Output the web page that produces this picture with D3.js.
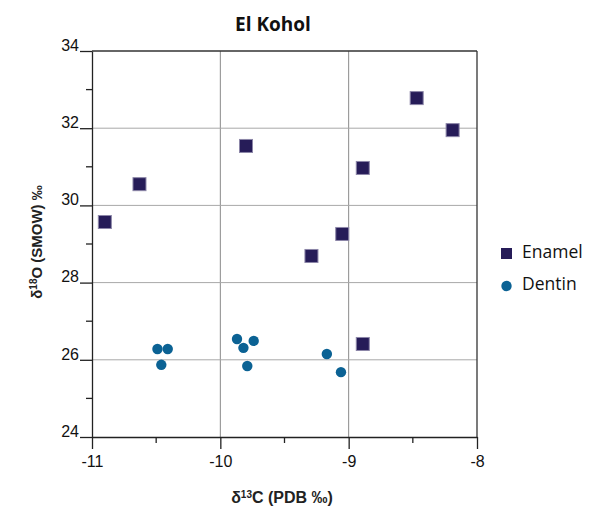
<!DOCTYPE html>
<html><head><meta charset="utf-8">
<script src="https://cdn.jsdelivr.net/npm/d3@7"></script>
<style>body{margin:0;background:#fff;} svg{display:block;}</style>
</head><body>
<svg id="c" width="590" height="510"></svg>
<script>
const enamelX = [-10.90, -10.63, -9.80, -8.47, -8.19, -8.89, -9.05, -9.29, -8.89];
const enamelY = [29.57, 30.55, 31.54, 32.78, 31.95, 30.97, 29.26, 28.69, 26.41];
const dentinX = [-10.49, -10.41, -10.46, -9.87, -9.74, -9.82, -9.79, -9.17, -9.06];
const dentinY = [26.28, 26.28, 25.87, 26.54, 26.49, 26.31, 25.84, 26.15, 25.68];
const xTicks = [-11, -10, -9, -8];
const xMinor = [-10.5, -9.5, -8.5];
const yTicks = [24, 26, 28, 30, 32, 34];
const yMinor = [25, 27, 29, 31, 33];
const seriesNames = ["Enamel", "Dentin"];

const svg = d3.select("#c");
const L = 92, R = 477, T = 51, B = 437;
const x = d3.scaleLinear().domain([-11, -8]).range([L, R]);
const y = d3.scaleLinear().domain([24, 34]).range([B, T]);
const font = "'Liberation Sans', Arial, sans-serif";
const fmt = d => String(d).replace("\u2212", "-");

// grid
svg.append("g").selectAll("line").data(xTicks.slice(1, -1)).join("line")
  .attr("x1", d => x(d)).attr("x2", d => x(d)).attr("y1", T).attr("y2", B)
  .attr("stroke", "#8a8a8a").attr("stroke-width", 1);
svg.append("g").selectAll("line").data(yTicks.slice(1, -1)).join("line")
  .attr("y1", d => y(d)).attr("y2", d => y(d)).attr("x1", L).attr("x2", R)
  .attr("stroke", "#a8a8a8").attr("stroke-width", 1);
// frame top/right
svg.append("line").attr("x1", L).attr("x2", R).attr("y1", T).attr("y2", T).attr("stroke", "#333").attr("stroke-width", 1.3);
svg.append("line").attr("x1", R).attr("x2", R).attr("y1", T).attr("y2", B).attr("stroke", "#333").attr("stroke-width", 1.3);

// axes
const xAxis = d3.axisBottom(x).tickValues(xTicks).tickSize(12).tickSizeOuter(0).tickFormat(fmt);
const gx = svg.append("g").attr("transform", `translate(0,${B})`).call(xAxis);
gx.append("g").selectAll("line").data(xMinor).join("line")
  .attr("x1", d => x(d)).attr("x2", d => x(d)).attr("y1", 0).attr("y2", 6).attr("stroke", "#222").attr("stroke-width", 1.3);
gx.selectAll(".tick text").attr("font-family", font).attr("font-size", 16).attr("fill", "#111").attr("dy", 0).attr("y", 30);

const yAxis = d3.axisLeft(y).tickValues(yTicks).tickSize(12).tickSizeOuter(0).tickFormat(fmt);
const gy = svg.append("g").attr("transform", `translate(${L},0)`).call(yAxis);
gy.append("g").selectAll("line").data(yMinor).join("line")
  .attr("y1", d => y(d)).attr("y2", d => y(d)).attr("x1", 0).attr("x2", -6).attr("stroke", "#222").attr("stroke-width", 1.3);
gy.selectAll(".tick text").attr("font-family", font).attr("font-size", 16).attr("fill", "#111").attr("x", -13).attr("dy", "-0.05em");
[gx, gy].forEach(g => {
  g.selectAll("path.domain").attr("stroke", "#222").attr("stroke-width", 1.3);
  g.selectAll(".tick line").attr("stroke", "#222").attr("stroke-width", 1.3);
});

// points
const sq = 13;
svg.append("g").selectAll("rect").data(d3.range(enamelX.length)).join("rect")
  .attr("x", i => x(enamelX[i]) - sq / 2).attr("y", i => y(enamelY[i]) - sq / 2)
  .attr("width", sq).attr("height", sq)
  .attr("fill", "#261c58").attr("stroke", "#8c86a8").attr("stroke-width", 1);
svg.append("g").selectAll("circle").data(d3.range(dentinX.length)).join("circle")
  .attr("cx", i => x(dentinX[i])).attr("cy", i => y(dentinY[i])).attr("r", 5.2)
  .attr("fill", "#0b6294");

// title and labels
svg.append("text").attr("x", 273).attr("y", 31).attr("text-anchor", "middle")
  .attr("font-family", "'Open Sans', sans-serif").attr("font-weight", "bold").attr("font-size", 19).attr("fill", "#111").text("El Kohol");
const xl = svg.append("text").attr("x", 282).attr("y", 503).attr("text-anchor", "middle")
  .attr("font-family", font).attr("font-weight", "bold").attr("font-size", 16).attr("fill", "#222");
xl.append("tspan").text("δ");
xl.append("tspan").attr("font-size", 10).attr("dy", -5).text("13");
xl.append("tspan").attr("dy", 5).text("C (PDB ‰)");
const yl = svg.append("text").attr("transform", "translate(42,242) rotate(-90)").attr("text-anchor", "middle")
  .attr("font-family", font).attr("font-weight", "bold").attr("font-size", 15).attr("fill", "#222");
yl.append("tspan").text("δ");
yl.append("tspan").attr("font-size", 10).attr("dy", -5).text("18");
yl.append("tspan").attr("dy", 5).text("O (SMOW) ‰");

// legend
const lg = svg.append("g");
lg.append("rect").attr("x", 501).attr("y", 248).attr("width", 11).attr("height", 11).attr("fill", "#261c58");
lg.append("circle").attr("cx", 506.5).attr("cy", 286).attr("r", 5.2).attr("fill", "#0b6294");
lg.selectAll("text").data(seriesNames).join("text")
  .attr("x", 522).attr("y", (d, i) => 258 + i * 32)
  .attr("font-family", "'Open Sans', sans-serif").attr("font-size", 17.5).attr("fill", "#111").text(d => d);
</script>
</body></html>
